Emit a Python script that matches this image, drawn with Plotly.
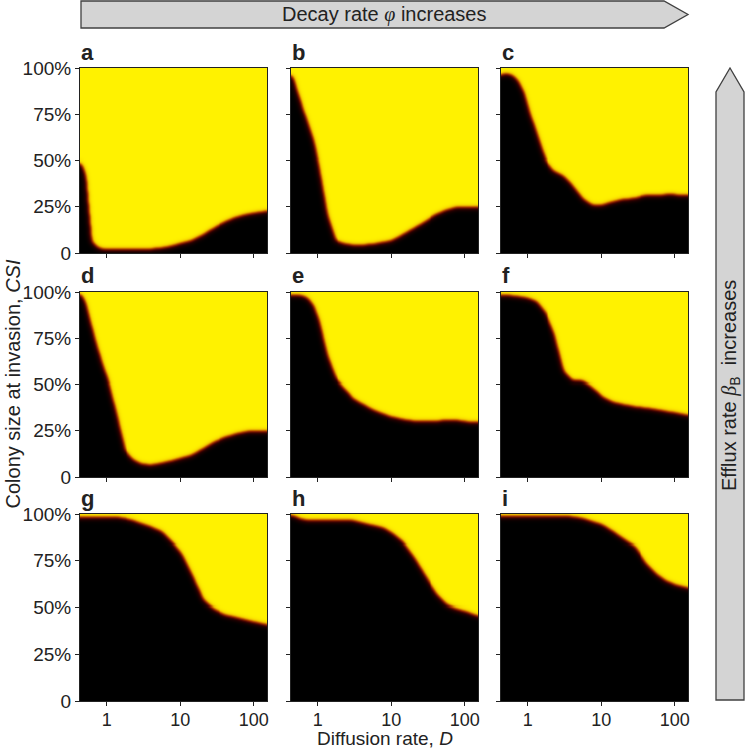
import numpy as np
import plotly.graph_objects as go

# Diffusion rate D at which the boundary was read, and the colony size (% of max)
# above which invasion succeeds (yellow) for each panel
diffusion = [0.44, 0.5, 0.6, 0.7, 0.85, 1, 1.3, 1.7, 2.2, 3, 4, 5.5, 7.5, 10,
             14, 20, 28, 40, 55, 75, 100, 150]
csi_a = [48, 42, 6, 3, 1.5, 1.3, 1.3, 1.3, 1.3, 1.3, 1.5, 2, 3, 4.5,
         6, 9, 12.6, 16, 18.4, 20, 21, 22]
csi_b = [95.5, 88, 78, 70, 60, 46, 20, 6.3, 4.5, 3.6, 3.6, 4, 5, 6,
         9, 12.6, 16, 20, 22.5, 24, 24.3, 24]
csi_c = [95.5, 96.4, 95.5, 93, 86.5, 76.6, 63, 49.5, 44, 41.4, 36, 29, 25.2, 25.2,
         27, 28.5, 29, 30.6, 30.6, 31, 31, 30.6]
csi_d = [98, 93.7, 81, 71, 60, 52, 34, 14.4, 9, 6.3, 5.8, 6.8, 8, 9.4,
         11, 14.4, 18, 20.7, 22.5, 23.8, 24.3, 24.3]
csi_e = [97.7, 97.7, 97.3, 96.4, 92, 84, 65, 53, 48, 42, 39, 36, 33.7, 32,
         30.6, 29.7, 29.4, 29.4, 30.3, 30.3, 29.4, 29]
csi_f = [97.7, 97.7, 97.3, 97, 96.4, 96, 94, 88, 77.5, 56.8, 51.4, 51.4, 47.7, 43,
         40, 38.6, 37.5, 36.8, 36, 35, 34.2, 32.8]
csi_g = [97.7, 97.7, 97.7, 97.7, 97.7, 97.7, 97.7, 97, 96, 94, 92.3, 89.8, 84.7, 78.5,
         66.8, 53.3, 48.5, 45.6, 44.3, 43, 41.7, 40.2]
csi_h = [98.7, 97.7, 96.4, 96, 95.8, 95.8, 95.8, 95.8, 95.8, 95.8, 94.6, 93.2, 92, 89.2,
         84.4, 76.1, 66.4, 56.9, 51, 48.8, 47.4, 44.8]
csi_i = [98.2, 98.2, 98.2, 98.2, 98.2, 98.2, 98.2, 98.2, 98.2, 98.2, 97.8, 97, 95.2, 93.7,
         90, 85.6, 82, 73, 67.3, 63.6, 61.4, 59.6]

panels = [("a", csi_a), ("b", csi_b), ("c", csi_c),
          ("d", csi_d), ("e", csi_e), ("f", csi_f),
          ("g", csi_g), ("h", csi_h), ("i", csi_i)]

x_ticks = [1, 10, 100]
y_ticks = [0, 25, 50, 75, 100]
y_ticktext = ["0", "25%", "50%", "75%", "100%"]

D_MIN, D_MAX = 0.434, 151
W, H = 745, 751
FONT = "Liberation Sans, Arial, sans-serif"
INK = "#222222"

# pixel boxes of the 3x3 grid
cols = [(80, 267), (291, 478), (501, 688)]
rows = [(68, 253), (292, 477), (514, 701)]


def px(x):
    return x / W


def py(y):
    return 1 - y / H


def blurred_map(boundary, nx=190, ny=185, sigma=2.5):
    """Binary outcome map (1 = invasion) softened like the original raster"""
    xs = np.logspace(np.log10(D_MIN), np.log10(D_MAX), nx)
    ys = np.linspace(0, 100, ny)
    b = np.interp(np.log10(xs), np.log10(diffusion), boundary)
    mask = (ys[:, None] > b[None, :]).astype(float)
    k = np.arange(-8, 9)
    kern = np.exp(-0.5 * (k / sigma) ** 2)
    kern /= kern.sum()
    pad = np.pad(mask, 8, mode="edge")
    pad = np.apply_along_axis(lambda v: np.convolve(v, kern, mode="same"), 0, pad)
    pad = np.apply_along_axis(lambda v: np.convolve(v, kern, mode="same"), 1, pad)
    return xs, ys, pad[8:-8, 8:-8]


hot = [[0, "#000000"], [0.35, "#2a0000"], [0.55, "#6a0c00"],
       [0.75, "#b84a00"], [0.9, "#f2c400"], [1, "#fff200"]]

fig = go.Figure()
layout = {}
annotations = []

for k, (letter, csi) in enumerate(panels):
    r, c = divmod(k, 3)
    sfx = "" if k == 0 else str(k + 1)
    xs, ys, z = blurred_map(csi)
    fig.add_trace(go.Heatmap(
        x=xs, y=ys, z=z,
        xaxis="x" + sfx, yaxis="y" + sfx,
        colorscale=hot, zmin=0, zmax=1,
        showscale=False, hoverinfo="skip"
    ))
    x0, x1 = cols[c]
    y0, y1 = rows[r]
    layout["xaxis" + sfx] = dict(
        domain=[px(x0), px(x1)], anchor="y" + sfx, automargin=False,
        type="log", range=[np.log10(D_MIN), np.log10(D_MAX)],
        tickvals=x_ticks, ticktext=[str(t) for t in x_ticks],
        showticklabels=(r == 2), ticks="outside", ticklen=4, tickcolor=INK,
        ticklabelstandoff=-2,
        showline=True, mirror=True, linecolor=INK, linewidth=1,
        showgrid=False, zeroline=False,
        tickfont=dict(family=FONT, size=18, color=INK)
    )
    layout["yaxis" + sfx] = dict(
        domain=[py(y1), py(y0)], anchor="x" + sfx, automargin=False,
        range=[0, 100], tickvals=y_ticks, ticktext=y_ticktext,
        showticklabels=(c == 0), ticks="outside", ticklen=4, tickcolor=INK,
        showline=True, mirror=True, linecolor=INK, linewidth=1,
        showgrid=False, zeroline=False,
        tickfont=dict(family=FONT, size=19, color=INK)
    )
    annotations.append(dict(
        text="<b>%s</b>" % letter, xref="paper", yref="paper",
        x=px(x0 - 1), y=py(y0 - 16), xanchor="left", yanchor="middle",
        showarrow=False, font=dict(family=FONT, size=22, color=INK)
    ))

# axis titles
annotations.append(dict(
    text="Diffusion rate, <i>D</i>", xref="paper", yref="paper",
    x=px(384.5), y=py(751), xanchor="center", yanchor="bottom",
    showarrow=False, font=dict(family=FONT, size=19, color=INK)
))
annotations.append(dict(
    text="Colony size at invasion, <i>CSI</i>", xref="paper", yref="paper",
    x=px(12), y=py(384.5), xanchor="center", yanchor="middle", textangle=-90,
    showarrow=False, font=dict(family=FONT, size=20, color=INK)
))


# arrows showing parameter direction
def path(points):
    return "M " + " L ".join("%.5f,%.5f" % (px(x), py(y)) for x, y in points) + " Z"


arrow_style = dict(type="path", xref="paper", yref="paper",
                   fillcolor="#d4d4d4", line=dict(color="#404040", width=1.3))
shapes = [
    dict(path=path([(81, 1), (664, 1), (688, 14.5), (664, 28), (81, 28)]), **arrow_style),
    dict(path=path([(716, 700), (716, 92), (730, 68), (744, 92), (744, 700)]), **arrow_style),
]
annotations.append(dict(
    text="Decay rate <span style=\"font-family:'Liberation Serif'\"><i>φ</i></span> increases",
    xref="paper", yref="paper", x=px(384.5), y=py(14.5),
    xanchor="center", yanchor="middle", showarrow=False,
    font=dict(family=FONT, size=20, color=INK)
))
annotations.append(dict(
    text="Efflux rate <span style=\"font-family:'Liberation Serif'\"><i>β</i></span><sub>B</sub>  increases",
    xref="paper", yref="paper", x=px(730), y=py(386),
    xanchor="center", yanchor="middle", textangle=-90, showarrow=False,
    font=dict(family=FONT, size=20, color=INK)
))

fig.update_layout(
    width=W, height=H,
    margin=dict(l=0, r=0, t=0, b=0, pad=0, autoexpand=False),
    paper_bgcolor="white", plot_bgcolor="white",
    showlegend=False,
    annotations=annotations,
    shapes=shapes,
    **layout
)

# drop the browser's default body margin so the figure sits at the window corner
fig.write_html("out.html", config={"displayModeBar": False},
               post_script="document.body.style.margin='0';")
